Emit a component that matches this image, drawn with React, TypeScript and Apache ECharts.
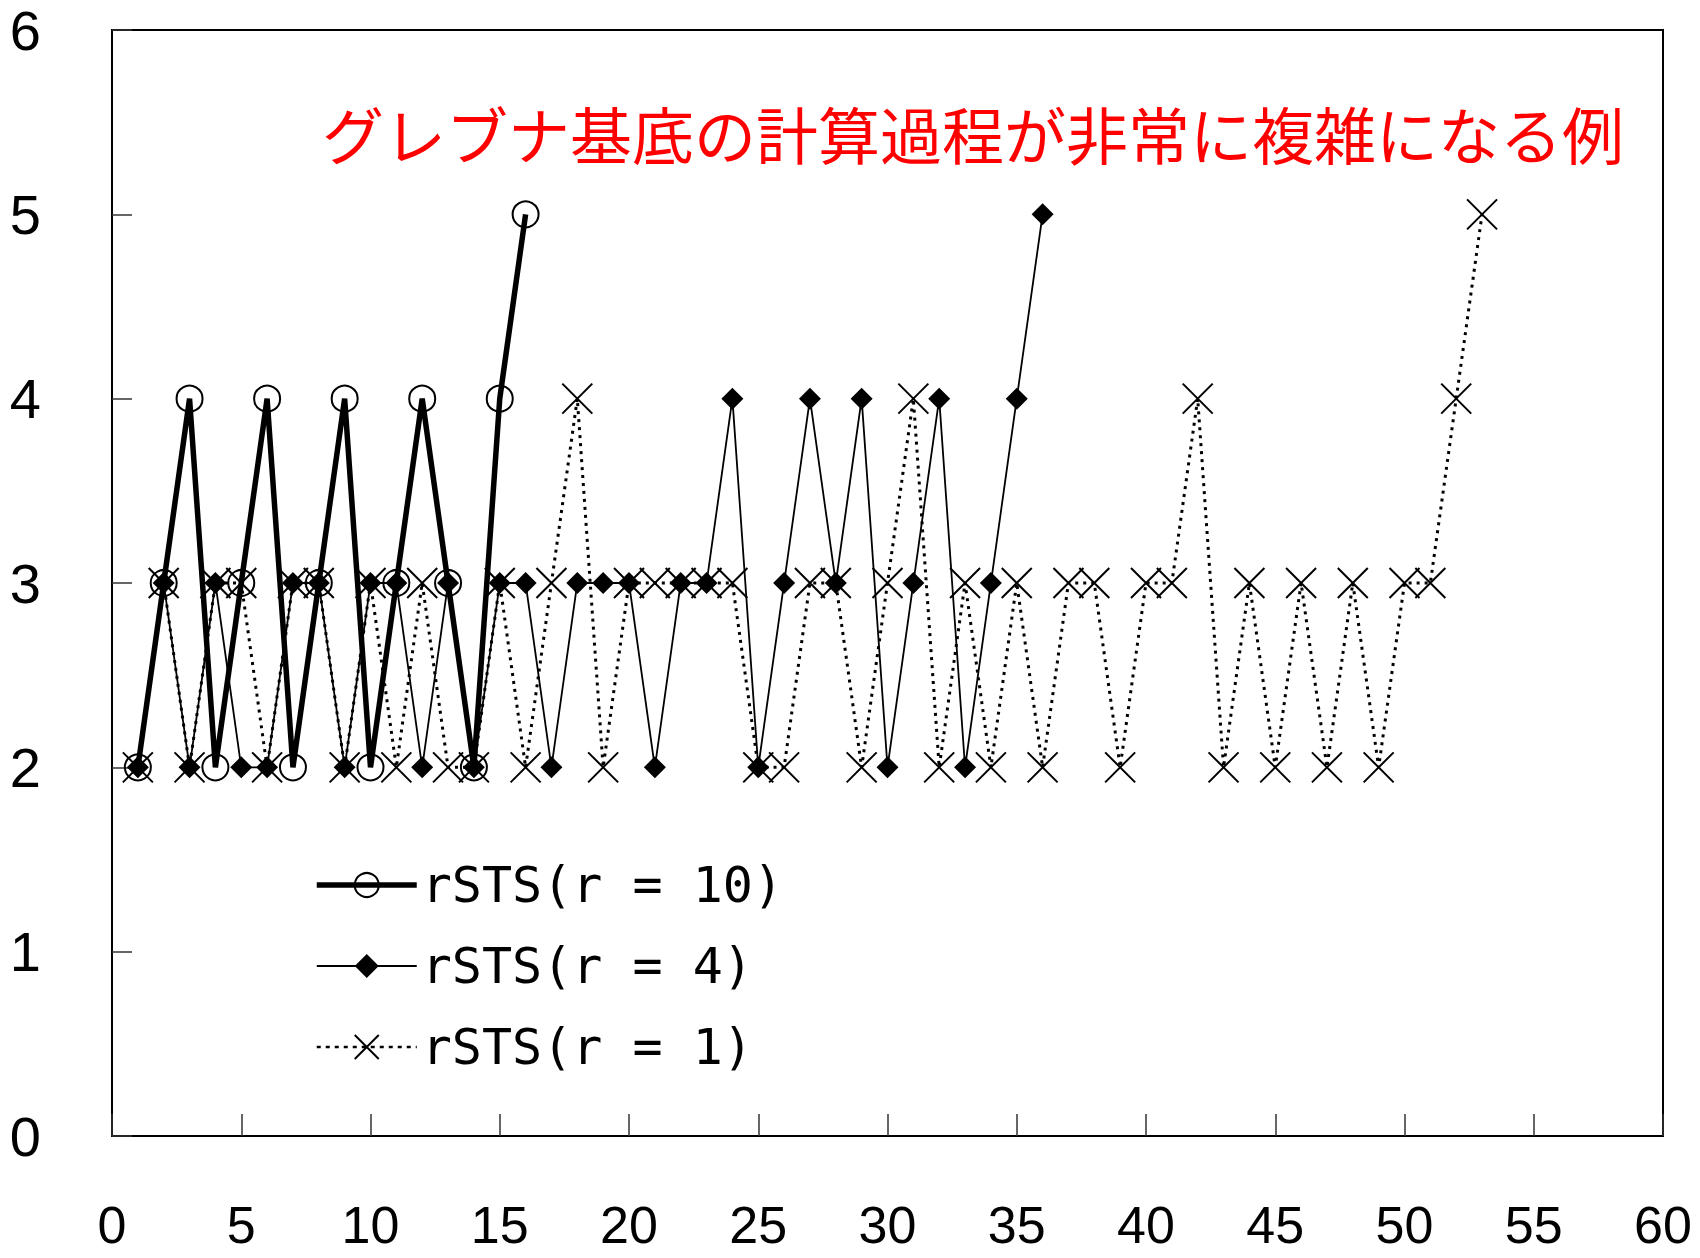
import React, { useEffect, useRef } from "react";
import * as echarts from "echarts";

const titleText = "グレブナ基底の計算過程が非常に複雑になる例";
const seriesNames = ["rSTS(r = 10)", "rSTS(r = 4)", "rSTS(r = 1)"];

const r10Values = [2, 3, 4, 2, 3, 4, 2, 3, 4, 2, 3, 4, 3, 2, 4, 5];
const r4Values = [
  2, 3, 2, 3, 2, 2, 3, 3, 2, 3, 3, 2, 3, 2, 3, 3, 2, 3, 3, 3, 2, 3, 3, 4, 2, 3,
  4, 3, 4, 2, 3, 4, 2, 3, 4, 5,
];
const r1Values = [
  2, 3, 2, 3, 3, 2, 3, 3, 2, 3, 2, 3, 2, 2, 3, 2, 3, 4, 2, 3, 3, 3, 3, 3, 2, 2,
  3, 3, 2, 3, 4, 2, 3, 2, 3, 2, 3, 3, 2, 3, 3, 4, 2, 3, 2, 3, 2, 3, 2, 3, 3, 4,
  5,
];

const toPairs = (vals: number[]) => vals.map((v, i) => [i + 1, v]);

const NUM_FONT = '"Liberation Sans", Arial, sans-serif';
const LEGEND_FONT = '"DejaVu Sans Mono", "Liberation Mono", monospace';
const JP_FONT = '"Noto Sans CJK JP", "Noto Sans", sans-serif';

export default function App() {
  const ref = useRef<HTMLDivElement>(null);
  useEffect(() => {
    if (!ref.current) return;
    const chart = echarts.init(ref.current, undefined, { renderer: "svg" });
    chart.setOption({
      animation: false,
      backgroundColor: "#fff",
      title: {
        text: titleText,
        left: 322,
        top: 102,
        padding: 0,
        textStyle: {
          color: "#ff0000",
          fontSize: 62,
          fontWeight: "normal",
          fontFamily: JP_FONT,
        },
      },
      legend: {
        data: [
          { name: seriesNames[0], lineStyle: { width: 5.5 } },
          { name: seriesNames[1], lineStyle: { width: 1.8 } },
          { name: seriesNames[2], lineStyle: { width: 2.5, type: [4, 5] } },
        ],
        orient: "vertical",
        left: 314,
        top: 855,
        padding: 0,
        itemWidth: 100,
        itemHeight: 30,
        itemGap: 21,
        itemTextGap: 9,
        textStyle: {
          fontSize: 50,
          fontFamily: LEGEND_FONT,
          color: "#000",
          lineHeight: 60,
        },
      },
      grid: {
        left: 112,
        right: 37,
        top: 30,
        bottom: 122,
        show: true,
        borderColor: "#000",
        borderWidth: 2,
        backgroundColor: "transparent",
      },
      xAxis: {
        type: "value",
        min: 0,
        max: 60,
        interval: 5,
        splitLine: { show: false },
        axisLine: { show: true, lineStyle: { color: "#000", width: 2 } },
        axisTick: {
          show: true,
          inside: true,
          length: 22,
          lineStyle: { color: "#333", width: 1.5 },
        },
        axisLabel: {
          margin: 63,
          fontSize: 52,
          fontFamily: NUM_FONT,
          color: "#000",
        },
      },
      yAxis: {
        type: "value",
        min: 0,
        max: 6,
        interval: 1,
        splitLine: { show: false },
        axisLine: { show: true, lineStyle: { color: "#000", width: 2 } },
        axisTick: {
          show: true,
          inside: true,
          length: 20,
          lineStyle: { color: "#333", width: 1.5 },
        },
        axisLabel: {
          margin: 71,
          fontSize: 56,
          fontFamily: NUM_FONT,
          color: "#000",
        },
      },
      series: [
        {
          name: seriesNames[2],
          type: "line",
          data: toPairs(r1Values),
          symbol: "path://M0,0L20,20M20,0L0,20",
          symbolSize: 30,
          showAllSymbol: true,
          lineStyle: { color: "#000", width: 3, type: [3, 5] },
          itemStyle: { color: "none", borderColor: "#000", borderWidth: 2 },
          z: 2,
        },
        {
          name: seriesNames[1],
          type: "line",
          data: toPairs(r4Values),
          symbol: "diamond",
          symbolSize: 22,
          showAllSymbol: true,
          lineStyle: { color: "#000", width: 1.8 },
          itemStyle: { color: "#000", borderColor: "#000", borderWidth: 0 },
          z: 3,
        },
        {
          name: seriesNames[0],
          type: "line",
          data: toPairs(r10Values),
          symbol: "circle",
          symbolSize: 26,
          showAllSymbol: true,
          lineStyle: { color: "#000", width: 5.5 },
          itemStyle: { color: "none", borderColor: "#000", borderWidth: 2 },
          z: 4,
        },
      ],
    });
    return () => chart.dispose();
  }, []);
  return (
    <div
      ref={ref}
      style={{ position: "absolute", left: 0, top: 0, width: 1700, height: 1258 }}
    />
  );
}
